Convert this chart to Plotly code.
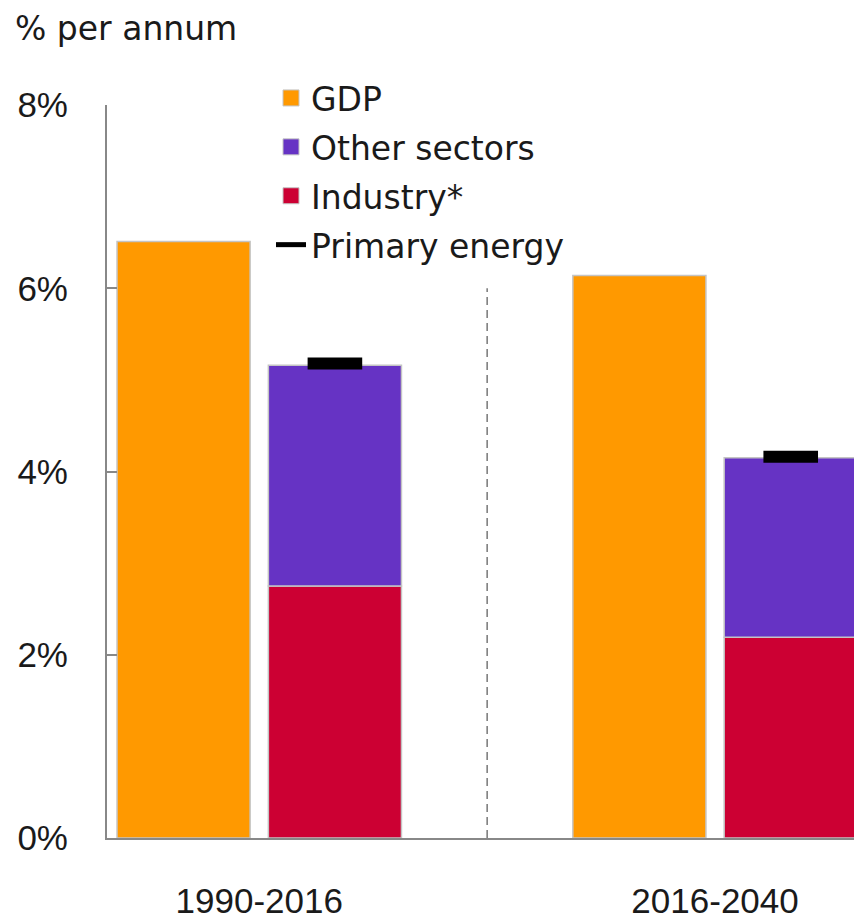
import plotly.graph_objects as go

# ---- data ----
periods = ["1990-2016", "2016-2040"]
gdp = [6.51, 6.14]
industry = [2.75, 2.19]
other_sectors = [2.41, 1.96]
primary_energy = [5.18, 4.16]
y_ticks = [0, 2, 4, 6, 8]
y_tick_labels = ["0%", "2%", "4%", "6%", "8%"]

# ---- layout helpers ----
group_pos = [0, 1]
offset = 0.166
bar_width = 0.292
x_gdp = [p - offset for p in group_pos]
x_stack = [p + offset for p in group_pos]

C_GDP = "#FF9900"
C_OTHER = "#6633C4"
C_IND = "#CC0033"
BORDER = dict(color="#c4c4c4", width=1.5)
FONT = "DejaVu Sans"
TICKFONT = "Liberation Sans"
TXT = "#1a1a1a"

OFF = 8  # page body margin
W, H = 862 - OFF, 919 - OFF
ML, MR, MT = 107 - OFF, 2, 105 - OFF
MB = H - (838 - OFF)
PW = W - ML - MR
PH = H - MT - MB


def px_x(page_x):
    return (page_x - OFF - ML) / PW


def px_y(page_y):
    return 1 + (MT - (page_y - OFF)) / PH


fig = go.Figure()
fig.add_bar(x=x_gdp, y=gdp, width=bar_width, name="GDP",
            marker=dict(color=C_GDP, line=BORDER), showlegend=False)
fig.add_bar(x=x_stack, y=industry, width=bar_width, name="Industry*",
            marker=dict(color=C_IND, line=BORDER), showlegend=False)
fig.add_bar(x=x_stack, y=other_sectors, base=industry, width=bar_width,
            name="Other sectors", marker=dict(color=C_OTHER, line=BORDER),
            showlegend=False)
fig.add_scatter(x=x_stack, y=primary_energy, mode="markers", name="Primary energy",
                marker=dict(symbol="line-ew", size=39, color="black",
                            line=dict(color="black", width=12)),
                showlegend=False, hoverinfo="y")

# legend entries
for nm, col in [("GDP", C_GDP), ("Other sectors", C_OTHER), ("Industry*", C_IND)]:
    fig.add_scatter(x=[None], y=[None], mode="markers", name=nm, legendgroup=nm,
                    marker=dict(symbol="square", size=18, color=col,
                                line=dict(color="#c4c4c4", width=1)))
fig.add_scatter(x=[None], y=[None], mode="lines", name="Primary energy",
                legendgroup="pe", line=dict(color="black", width=5))

# dashed separator
fig.add_shape(type="line", x0=0.5, x1=0.5, y0=0, y1=6, xref="x", yref="y",
              line=dict(color="#777777", width=1.5, dash="8px,5px"))

fig.add_annotation(text="% per annum", xref="paper", yref="paper",
                   x=px_x(13), y=px_y(28), xanchor="left",
                   yanchor="middle", showarrow=False,
                   font=dict(family=FONT, size=33, color=TXT))

fig.update_layout(
    width=W, height=H, margin=dict(l=ML, r=MR, t=MT, b=MB, autoexpand=False),
    barmode="overlay", plot_bgcolor="white", paper_bgcolor="white",
    font=dict(family=FONT, size=32, color=TXT),
    legend=dict(x=px_x(271), y=px_y(70), xanchor="left", yanchor="top",
                traceorder="grouped", tracegroupgap=3, bgcolor="rgba(0,0,0,0)",
                font=dict(family=FONT, size=33, color=TXT)),
    showlegend=True,
)
fig.update_xaxes(range=[-0.334, 1.318], tickvals=group_pos, ticktext=periods,
                 tickfont=dict(family=TICKFONT, size=35, color=TXT),
                 showline=True, linecolor="#888888", linewidth=2, ticks="",
                 showgrid=False, zeroline=False, ticklabelstandoff=31,
                 automargin=False)
fig.update_yaxes(range=[0, 8], tickvals=y_ticks, ticktext=y_tick_labels,
                 tickfont=dict(family=TICKFONT, size=35, color=TXT),
                 ticks="inside", ticklen=10, tickcolor="#888888", tickwidth=1.5,
                 showline=True, linecolor="#888888", linewidth=2,
                 showgrid=False, zeroline=False, ticklabelstandoff=30,
                 automargin=False)

fig.write_html("out.html")
